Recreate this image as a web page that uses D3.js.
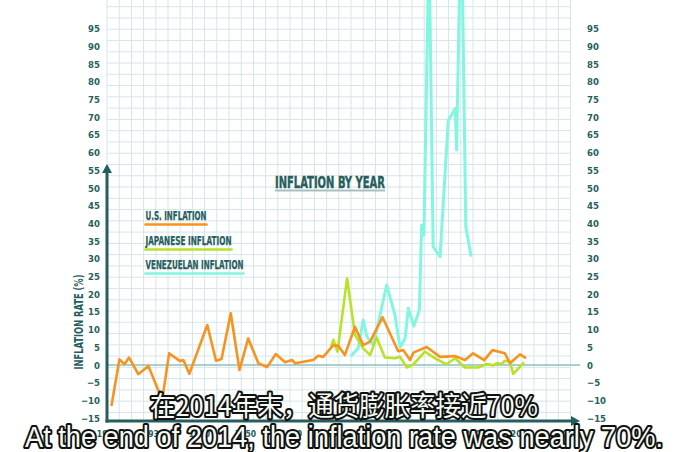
<!DOCTYPE html>
<html><head><meta charset="utf-8">
<script src="https://cdn.jsdelivr.net/npm/d3@7"></script>
<style>html,body{margin:0;padding:0;background:#fff;overflow:hidden}</style>
</head><body>
<svg id="c" width="680" height="452"></svg>
<script>
// ---- data ----
const usYears = [1921.0,1922.7,1923.8,1924.8,1926.8,1929.0,1932.0,1933.5,1935.9,1936.6,1937.9,1941.8,1943.7,1944.9,1946.9,1948.8,1950.7,1952.9,1954.8,1956.7,1958.7,1960.2,1960.9,1964.8,1965.9,1967.0,1969.2,1970.3,1971.7,1973.9,1975.7,1977.2,1979.9,1983.3,1984.4,1985.9,1986.6,1989.5,1992.4,1995.7,1997.8,1999.6,2002.0,2003.8,2006.5,2007.6,2009.8,2010.9];
const usValues = [-11.3,1.6,0.2,2.1,-2.6,-0.3,-9.9,3.3,1.1,1.4,-2.5,11.3,1.2,1.7,14.6,-1.4,7.5,0.5,-0.6,3.1,0.8,1.4,0.5,1.4,2.6,2.3,5.6,5.4,2.8,10.8,5.6,6.6,13.5,3.9,4.2,1.4,3.5,5.1,2.3,2.5,1.4,3.3,1.4,4.2,3.3,0.5,3.0,2.1];
const jpYears = [1968.8,1969.2,1970.1,1972.2,1973.9,1975.7,1977.2,1978.6,1980.4,1982.6,1983.7,1985.2,1986.6,1989.1,1991.3,1993.8,1995.7,1997.8,2000.7,2002.5,2004.0,2004.8,2005.8,2006.5,2007.6,2008.3,2010.5];
const jpValues = [5.4,7.1,3.8,24.5,8.5,4.7,2.8,7.8,2.1,1.9,2.3,-0.7,0.2,3.8,1.9,0.2,1.9,-0.7,-0.7,0.3,-0.1,0.5,0.3,1.2,0.9,-2.5,0.5];
const veYears = [1973.2,1974.6,1975.7,1976.5,1977.9,1980.8,1981.9,1982.6,1983.7,1984.8,1985.5,1986.7,1987.9,1988.4,1988.9,1990.0,1990.9,1992.4,1994.2,1994.9,1995.7,1996.0,1997.0,1998.0,1999.1];
const veValues = [2.8,4.7,12.7,8.0,5.6,22.6,17.4,14.1,5.0,7.5,16,11,15.5,39.5,36.7,120,33.4,30.6,69.2,70.6,72.5,60.7,132,39,31];
const yTicks = [-15,-10,-5,0,5,10,15,20,25,30,35,40,45,50,55,60,65,70,75,80,85,90,95];
const xTicks = [1920,1930,1940,1950,1960,1970,1980,1990,2000,2010,2020];
const legendLabels = ["U.S. INFLATION","JAPANESE INFLATION","VENEZUELAN INFLATION"];
const titleText = "INFLATION BY YEAR";
const yTitle = "INFLATION RATE (%)";
const subZh = "在2014年末，通货膨胀率接近70%";
const subEn = "At the end of 2014, the inflation rate was nearly 70%.";

// ---- layout ----
const svg = d3.select("#c");
const teal = "#265e5d";
const cols = {us:"#f7931e", jp:"#b8e227", ve:"#82f6e0"};
const x = d3.scaleLinear().domain([1920,2020]).range([107,567]);
const y = d3.scaleLinear().domain([0,95]).range([365,28.7]);
const axisY = 421;

// grid (decorative)
const grid = svg.append("g").attr("stroke","#d5e5ea").attr("stroke-width",1);
d3.range(107, 572, 12.2).forEach(gx=>grid.append("line").attr("x1",gx).attr("x2",gx).attr("y1",0).attr("y2",axisY));
d3.range(6.7, axisY, 11.27).forEach(gy=>grid.append("line").attr("x1",107).attr("x2",571).attr("y1",gy).attr("y2",gy));

// zero line
svg.append("line").attr("x1",107).attr("x2",580).attr("y1",y(0)).attr("y2",y(0))
  .attr("stroke","#8fbfbd").attr("stroke-width",1.5);

// tick labels
const tf = "'DejaVu Sans Condensed','DejaVu Sans',sans-serif";
const gl = svg.append("g").attr("transform","translate(100,0)").call(d3.axisLeft(y).tickValues(yTicks).tickSize(0).tickPadding(0));
const gr = svg.append("g").attr("transform","translate(587,0)").call(d3.axisRight(y).tickValues(yTicks).tickSize(0).tickPadding(0));
const gx = svg.append("g").attr("transform",`translate(0,${axisY+16})`).call(d3.axisBottom(x).tickValues(xTicks).tickFormat(d3.format("d")).tickSize(0).tickPadding(0));
[gl,gr,gx].forEach(g=>{
  g.select(".domain").remove();
  g.selectAll("text").attr("fill",teal).attr("font-family",tf).attr("font-weight","bold").attr("font-size",9.5);
});
gx.selectAll("text").attr("dy","0").attr("font-size",8.5);

// axes with arrows
svg.append("line").attr("x1",107).attr("x2",107).attr("y1",axisY+1.5).attr("y2",172).attr("stroke",teal).attr("stroke-width",3);
svg.append("path").attr("d","M107,164 L102,173 L112,173 Z").attr("fill",teal);
svg.append("line").attr("x1",105.5).attr("x2",572).attr("y1",axisY).attr("y2",axisY).attr("stroke",teal).attr("stroke-width",3);
svg.append("path").attr("d",`M580,${axisY} L571,${axisY-5} L571,${axisY+5} Z`).attr("fill",teal);

// lines
const line = d3.line().x(d=>x(d[0])).y(d=>y(d[1])).curve(d3.curveLinear);
function drawSeries(ys, vs, c, w){
  svg.append("path").datum(ys.map((d,i)=>[d,vs[i]])).attr("d",line)
    .attr("fill","none").attr("stroke",c).attr("stroke-width",w)
    .attr("stroke-linejoin","round").attr("stroke-linecap","round");
}
drawSeries(veYears, veValues, cols.ve, 3);
drawSeries(jpYears, jpValues, cols.jp, 2.6);
drawSeries(usYears, usValues, cols.us, 2.6);

// title
svg.append("text").attr("x",275).attr("y",188).text(titleText)
  .attr("font-family",tf).attr("font-weight","bold").attr("font-size",16.5).attr("fill",teal)
  .attr("stroke",teal).attr("stroke-width",0.4)
  .attr("textLength",110).attr("lengthAdjust","spacingAndGlyphs");
svg.append("line").attr("x1",275).attr("x2",385).attr("y1",190.5).attr("y2",190.5).attr("stroke","#a9bfbf").attr("stroke-width",1.8);

// legend
const lg = [{t:legendLabels[0],c:cols.us,y:220,w:61},{t:legendLabels[1],c:cols.jp,y:245,w:86},{t:legendLabels[2],c:cols.ve,y:269,w:98}];
lg.forEach(l=>{
  svg.append("text").attr("x",145.5).attr("y",l.y).text(l.t).attr("font-family",tf).attr("font-weight","bold")
    .attr("font-size",11.5).attr("fill",teal).attr("stroke",teal).attr("stroke-width",0.25)
    .attr("textLength",l.w).attr("lengthAdjust","spacingAndGlyphs");
  svg.append("line").attr("x1",145.5).attr("x2",145.5+l.w).attr("y1",l.y+4.5).attr("y2",l.y+4.5)
    .attr("stroke",l.c).attr("stroke-width",2.6).attr("stroke-linecap","round");
});

// y title
svg.append("text").attr("transform","translate(82.5,322) rotate(-90)").attr("text-anchor","middle")
  .text(yTitle).attr("font-family",tf).attr("font-weight","bold").attr("font-size",13).attr("fill",teal)
  .attr("textLength",95).attr("lengthAdjust","spacingAndGlyphs");

// subtitles
function sub(t, cx, by, size, len, fam){
  svg.append("text").attr("x",cx).attr("y",by).attr("text-anchor","middle").text(t)
    .attr("font-family",fam).attr("font-size",size).attr("fill","#f3fbf2")
    .attr("stroke","#111").attr("stroke-width",4.2).attr("paint-order","stroke")
    .attr("stroke-linejoin","round").attr("textLength",len).attr("lengthAdjust","spacingAndGlyphs");
}
sub(subZh, 344, 416, 27, 388, "'Noto Sans CJK SC',sans-serif");
sub(subEn, 344, 447, 29, 638, "'Liberation Sans',Arial,sans-serif");
</script>
</body></html>
